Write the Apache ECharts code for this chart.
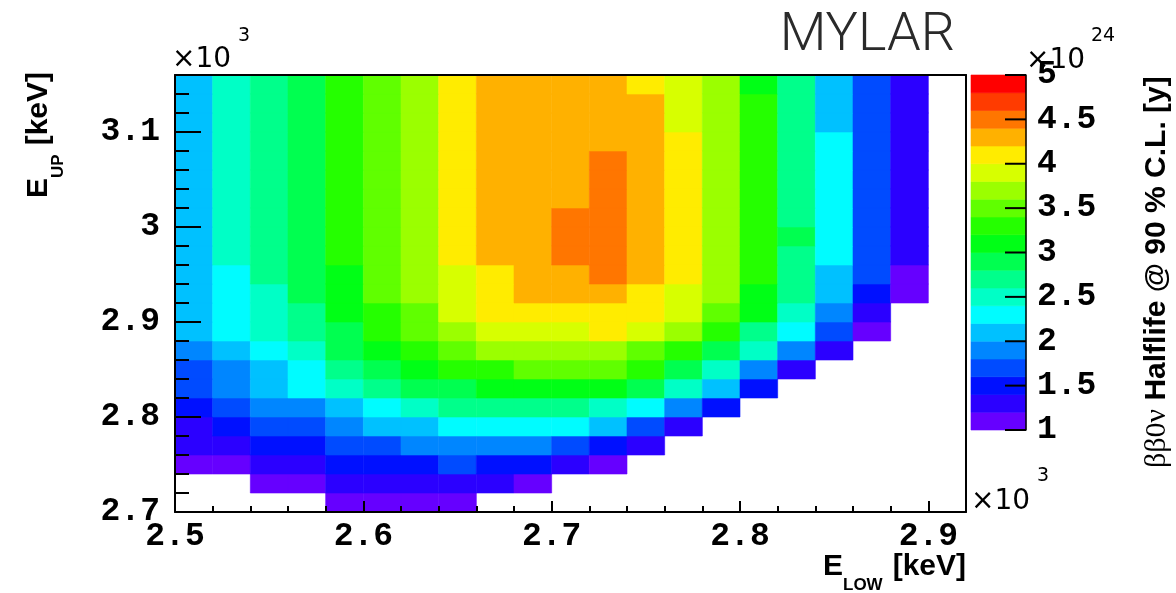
<!DOCTYPE html>
<html>
<head>
<meta charset="utf-8">
<script src="https://cdn.jsdelivr.net/npm/echarts@6/dist/echarts.min.js"></script>
<style>
  html, body { margin: 0; padding: 0; background: #ffffff; }
  #chart { width: 1176px; height: 593px; }
</style>
</head>
<body>
<div id="chart"></div>
<script>
// Lower edges of the E_LOW bins and E_UP bins, in keV (bins are 20 keV wide)
const eLowBins = [2500, 2520, 2540, 2560, 2580, 2600, 2620, 2640, 2660, 2680, 2700,
                  2720, 2740, 2760, 2780, 2800, 2820, 2840, 2860, 2880, 2900];
const eUpBins = [2700, 2720, 2740, 2760, 2780, 2800, 2820, 2840, 2860, 2880, 2900, 2920,
                 2940, 2960, 2980, 3000, 3020, 3040, 3060, 3080, 3100, 3120, 3140];
const binWidth = 20;

// 0vbb half-life limit at 90% C.L. in units of 1e24 y.
// One row per E_UP bin (lowest first), one entry per E_LOW bin; null = empty window.
const halfLife = [
  [null, null, null, null, 1.1, 1.1, 1.1, 1.1, null, null, null, null, null, null, null, null, null, null, null, null, null],
  [null, null, 1.1, 1.1, 1.3, 1.3, 1.3, 1.3, 1.3, 1.1, null, null, null, null, null, null, null, null, null, null, null],
  [1.1, 1.1, 1.3, 1.3, 1.5, 1.5, 1.5, 1.7, 1.5, 1.5, 1.3, 1.1, null, null, null, null, null, null, null, null, null],
  [1.3, 1.3, 1.5, 1.5, 1.7, 1.7, 1.9, 1.9, 1.9, 1.9, 1.7, 1.5, 1.3, null, null, null, null, null, null, null, null],
  [1.3, 1.5, 1.7, 1.7, 1.9, 2.1, 2.1, 2.3, 2.3, 2.3, 2.3, 2.1, 1.7, 1.3, null, null, null, null, null, null, null],
  [1.5, 1.7, 1.9, 1.9, 2.1, 2.3, 2.5, 2.7, 2.7, 2.7, 2.7, 2.5, 2.3, 1.9, 1.5, null, null, null, null, null, null],
  [1.7, 1.9, 2.1, 2.3, 2.5, 2.7, 2.9, 2.9, 3.1, 3.1, 3.1, 3.1, 2.9, 2.5, 2.1, 1.5, null, null, null, null, null],
  [1.7, 1.9, 2.1, 2.3, 2.7, 2.9, 3.1, 3.3, 3.3, 3.5, 3.5, 3.5, 3.3, 2.9, 2.5, 1.9, 1.3, null, null, null, null],
  [1.9, 2.1, 2.3, 2.5, 2.9, 3.1, 3.3, 3.5, 3.7, 3.7, 3.7, 3.7, 3.5, 3.3, 2.9, 2.5, 1.9, 1.3, null, null, null],
  [2.1, 2.3, 2.5, 2.7, 2.9, 3.3, 3.5, 3.7, 3.9, 3.9, 3.9, 4.1, 3.9, 3.7, 3.3, 2.7, 2.3, 1.7, 1.1, null, null],
  [2.1, 2.3, 2.5, 2.7, 3.1, 3.3, 3.5, 3.9, 4.1, 4.1, 4.1, 4.1, 4.1, 3.9, 3.5, 3.1, 2.5, 1.9, 1.3, null, null],
  [2.1, 2.3, 2.5, 2.9, 3.1, 3.5, 3.7, 3.9, 4.1, 4.3, 4.3, 4.3, 4.1, 3.9, 3.7, 3.1, 2.7, 2.1, 1.5, 1.1, null],
  [2.1, 2.3, 2.7, 2.9, 3.1, 3.5, 3.7, 3.9, 4.1, 4.3, 4.3, 4.5, 4.3, 4.1, 3.7, 3.3, 2.7, 2.1, 1.7, 1.1, null],
  [2.1, 2.5, 2.7, 2.9, 3.3, 3.5, 3.7, 4.1, 4.3, 4.3, 4.5, 4.5, 4.3, 4.1, 3.7, 3.3, 2.7, 2.3, 1.7, 1.3, null],
  [2.1, 2.5, 2.7, 2.9, 3.3, 3.5, 3.7, 4.1, 4.3, 4.3, 4.5, 4.5, 4.3, 4.1, 3.7, 3.3, 2.9, 2.3, 1.7, 1.3, null],
  [2.1, 2.5, 2.7, 2.9, 3.3, 3.5, 3.7, 4.1, 4.3, 4.3, 4.5, 4.5, 4.3, 4.1, 3.7, 3.3, 2.7, 2.3, 1.7, 1.3, null],
  [2.1, 2.5, 2.7, 2.9, 3.3, 3.5, 3.7, 4.1, 4.3, 4.3, 4.3, 4.5, 4.3, 4.1, 3.7, 3.3, 2.7, 2.3, 1.7, 1.3, null],
  [2.1, 2.5, 2.7, 2.9, 3.3, 3.5, 3.7, 4.1, 4.3, 4.3, 4.3, 4.5, 4.3, 4.1, 3.7, 3.3, 2.7, 2.3, 1.7, 1.3, null],
  [2.1, 2.5, 2.7, 2.9, 3.3, 3.5, 3.7, 4.1, 4.3, 4.3, 4.3, 4.5, 4.3, 4.1, 3.7, 3.3, 2.7, 2.3, 1.7, 1.3, null],
  [2.1, 2.5, 2.7, 2.9, 3.3, 3.5, 3.7, 4.1, 4.3, 4.3, 4.3, 4.3, 4.3, 4.1, 3.7, 3.3, 2.7, 2.3, 1.7, 1.3, null],
  [2.1, 2.5, 2.7, 2.9, 3.3, 3.5, 3.7, 4.1, 4.3, 4.3, 4.3, 4.3, 4.3, 3.9, 3.7, 3.3, 2.7, 2.1, 1.7, 1.3, null],
  [2.1, 2.5, 2.7, 2.9, 3.3, 3.5, 3.7, 4.1, 4.3, 4.3, 4.3, 4.3, 4.3, 3.9, 3.7, 3.3, 2.7, 2.1, 1.7, 1.3, null],
  [2.1, 2.5, 2.7, 2.9, 3.3, 3.5, 3.7, 4.1, 4.3, 4.3, 4.3, 4.3, 4.1, 3.9, 3.7, 3.1, 2.7, 2.1, 1.7, 1.3, null]
];

// Contour levels of the colour scale (1e24 y) and their colours
const zLevels = [1.0, 1.2, 1.4, 1.6, 1.8, 2.0, 2.2, 2.4, 2.6, 2.8, 3.0,
                 3.2, 3.4, 3.6, 3.8, 4.0, 4.2, 4.4, 4.6, 4.8, 5.0];
const palette = ['#6600ff', '#2b00ff', '#0010ff', '#004bff', '#0086ff', '#00c1ff', '#00fcff',
                 '#00ffc6', '#00ff8b', '#00ff50', '#00ff16', '#25ff00', '#60ff00', '#9bff00',
                 '#d7ff00', '#ffec00', '#ffb100', '#ff7600', '#ff3b00', '#ff0000'];
// Labelled values of the colour scale
const zTicks = [1, 1.5, 2, 2.5, 3, 3.5, 4, 4.5, 5];

// Axis ranges (keV) and the colour-scale range
const xRange = [2500, 2920];
const yRange = [2700, 3160];
const zRange = [1, 5];

const cells = [];
halfLife.forEach((row, j) => {
  row.forEach((v, i) => {
    if (v !== null) cells.push([eLowBins[i], eUpBins[j], v]);
  });
});

const bands = [];
for (let k = 0; k < zLevels.length - 1; k++) {
  bands.push([zLevels[k], zLevels[k + 1], (zLevels[k] + zLevels[k + 1]) / 2]);
}

const pieces = palette.map((c, k) => (
  k === palette.length - 1
    ? { gte: zLevels[k], lte: zLevels[k + 1], color: c }
    : { gte: zLevels[k], lt: zLevels[k + 1], color: c }
));

const tickFont = { fontFamily: 'Liberation Mono', fontWeight: 'bold', fontSize: 33, color: '#000' };
const kev = v => String(v / 1000);
const expFont = '28px "DejaVu Sans", sans-serif';
const supFont = '19px "DejaVu Sans", sans-serif';
const titleFont = 'bold 30px "Liberation Sans", sans-serif';
const subFont = 'bold 17px "Liberation Sans", sans-serif';
const scaleTickLen = 21;

const chart = echarts.init(document.getElementById('chart'), null, { renderer: 'canvas' });

chart.setOption({
  animation: false,
  backgroundColor: '#ffffff',
  grid: [
    { left: 175, top: 75, width: 791, height: 437, containLabel: false },
    { left: 971, top: 75, width: 55, height: 355, containLabel: false }
  ],
  xAxis: [
    {
      gridIndex: 0, type: 'value', position: 'bottom', min: xRange[0], max: xRange[1], interval: 100, z: 10,
      axisLine: { show: true, onZero: false, lineStyle: { color: '#000', width: 2 } },
      axisTick: { show: true, inside: true, length: 11, lineStyle: { color: '#000', width: 2 } },
      minorTick: { show: true, splitNumber: 5, length: 6, lineStyle: { color: '#000', width: 2 } },
      splitLine: { show: false },
      axisLabel: Object.assign({ margin: 8, formatter: kev, showMaxLabel: false }, tickFont)
    },
    {
      gridIndex: 0, type: 'value', position: 'top', min: xRange[0], max: xRange[1], z: 10,
      axisLine: { show: true, onZero: false, lineStyle: { color: '#000', width: 2 } },
      axisTick: { show: false }, axisLabel: { show: false }, splitLine: { show: false }
    },
    {
      gridIndex: 1, type: 'value', min: 0, max: 1,
      axisLine: { show: false }, axisTick: { show: false }, axisLabel: { show: false }, splitLine: { show: false }
    }
  ],
  yAxis: [
    {
      gridIndex: 0, type: 'value', position: 'left', min: yRange[0], max: yRange[1], interval: 100, z: 10,
      axisLine: { show: true, onZero: false, lineStyle: { color: '#000', width: 2 } },
      axisTick: { show: true, inside: true, length: 26, lineStyle: { color: '#000', width: 2 } },
      minorTick: { show: true, splitNumber: 5, length: 14, lineStyle: { color: '#000', width: 2 } },
      splitLine: { show: false },
      axisLabel: Object.assign({ margin: 15, formatter: kev, showMaxLabel: false }, tickFont)
    },
    {
      gridIndex: 0, type: 'value', position: 'right', min: yRange[0], max: yRange[1], z: 10,
      axisLine: { show: true, onZero: false, lineStyle: { color: '#000', width: 2 } },
      axisTick: { show: false }, axisLabel: { show: false }, splitLine: { show: false }
    },
    {
      // colour-scale axis: edge line and labels on the right of the bar
      gridIndex: 1, type: 'value', position: 'right', min: zRange[0], max: zRange[1], interval: 0.5, z: 50,
      axisLine: { show: true, onZero: false, lineStyle: { color: '#000', width: 1.5 } },
      axisTick: { show: false },
      splitLine: { show: false },
      axisLabel: Object.assign({ margin: 11, formatter: v => String(v) }, tickFont)
    }
  ],
  visualMap: {
    type: 'piecewise', show: false, dimension: 2, seriesIndex: [0, 1], pieces: pieces
  },
  series: [
    {
      type: 'custom', xAxisIndex: 0, yAxisIndex: 0, clip: true, z: 1,
      data: cells,
      encode: { x: 0, y: 1 },
      renderItem: (params, api) => {
        const x0 = api.value(0), y0 = api.value(1);
        const a = api.coord([x0, y0 + binWidth]);
        const b = api.coord([x0 + binWidth, y0]);
        const c = api.visual('color');
        return {
          type: 'rect',
          shape: { x: a[0], y: a[1], width: b[0] - a[0], height: b[1] - a[1] },
          style: { fill: c, stroke: c, lineWidth: 0.6 }
        };
      }
    },
    {
      // colour bar: one band per contour level
      type: 'custom', xAxisIndex: 2, yAxisIndex: 2, clip: false, z: 1,
      data: bands,
      encode: { y: [0, 1] },
      dimensions: ['lo', 'hi', 'z'],
      renderItem: (params, api) => {
        const a = api.coord([0, api.value(1)]);
        const b = api.coord([1, api.value(0)]);
        const c = api.visual('color');
        return {
          type: 'rect',
          shape: { x: a[0], y: a[1], width: b[0] - a[0], height: b[1] - a[1] },
          style: { fill: c, stroke: c, lineWidth: 0.6 }
        };
      }
    },
    {
      // colour-scale ticks, reaching into the bar from its right edge
      type: 'custom', xAxisIndex: 2, yAxisIndex: 2, clip: false, z: 5, silent: true,
      data: zTicks.map(v => [v]),
      encode: { y: 0 },
      renderItem: (params, api) => {
        const p = api.coord([1, api.value(0)]);
        return {
          type: 'line',
          shape: { x1: p[0] - scaleTickLen, y1: p[1], x2: p[0], y2: p[1] },
          style: { stroke: '#000', lineWidth: 2 }
        };
      }
    }
  ],
  graphic: [
    // material label
    { type: 'text', z: 20, style: { text: 'MYLAR', x: 955, y: 36, align: 'right', verticalAlign: 'middle',
      font: '300 54px Roboto, "Liberation Sans", sans-serif', fill: '#2a2a2a' } },
    // exponent of the E_UP axis
    { type: 'text', z: 20, style: { text: '\u00d710', x: 172, y: 60, align: 'left', verticalAlign: 'middle',
      font: expFont, fill: '#000' } },
    { type: 'text', z: 20, style: { text: '3', x: 238, y: 36, align: 'left', verticalAlign: 'middle',
      font: supFont, fill: '#000' } },
    // exponent of the E_LOW axis
    { type: 'text', z: 20, style: { text: '\u00d710', x: 971, y: 502, align: 'left', verticalAlign: 'middle',
      font: expFont, fill: '#000' } },
    { type: 'text', z: 20, style: { text: '3', x: 1037, y: 476, align: 'left', verticalAlign: 'middle',
      font: supFont, fill: '#000' } },
    // exponent of the colour scale
    { type: 'text', z: 20, style: { text: '\u00d710', x: 1026, y: 61, align: 'left', verticalAlign: 'middle',
      font: expFont, fill: '#000' } },
    { type: 'text', z: 20, style: { text: '24', x: 1091, y: 36, align: 'left', verticalAlign: 'middle',
      font: supFont, fill: '#000' } },
    // x axis title: E_LOW [keV]
    { type: 'text', z: 20, style: { text: 'E', x: 823, y: 567, align: 'left', verticalAlign: 'middle',
      font: titleFont, fill: '#000' } },
    { type: 'text', z: 20, style: { text: 'LOW', x: 843, y: 585, align: 'left', verticalAlign: 'middle',
      font: subFont, fill: '#000' } },
    { type: 'text', z: 20, style: { text: '[keV]', x: 966, y: 567, align: 'right', verticalAlign: 'middle',
      font: titleFont, fill: '#000' } },
    // y axis title: E_UP [keV]
    { type: 'text', z: 20, x: 39, y: 198, rotation: Math.PI / 2, style: { text: 'E', x: 0, y: 0, align: 'left',
      verticalAlign: 'middle', font: titleFont, fill: '#000' } },
    { type: 'text', z: 20, x: 58, y: 178, rotation: Math.PI / 2, style: { text: 'UP', x: 0, y: 0, align: 'left',
      verticalAlign: 'middle', font: subFont, fill: '#000' } },
    { type: 'text', z: 20, x: 39, y: 72, rotation: Math.PI / 2, style: { text: '[keV]', x: 0, y: 0, align: 'right',
      verticalAlign: 'middle', font: titleFont, fill: '#000' } },
    // colour scale title
    { type: 'text', z: 20, x: 1157, y: 468, rotation: Math.PI / 2, style: {
      text: '{g|\u03b2\u03b20\u03bd}{b| Halflife @ 90 % C.L. [y]}', x: 0, y: 0, align: 'left', verticalAlign: 'middle',
      rich: {
        g: { font: '30px "Liberation Serif", serif', fill: '#000' },
        b: { font: 'bold 30px "Liberation Sans", sans-serif', fill: '#000' }
      } } }
  ]
});
</script>
</body>
</html>
